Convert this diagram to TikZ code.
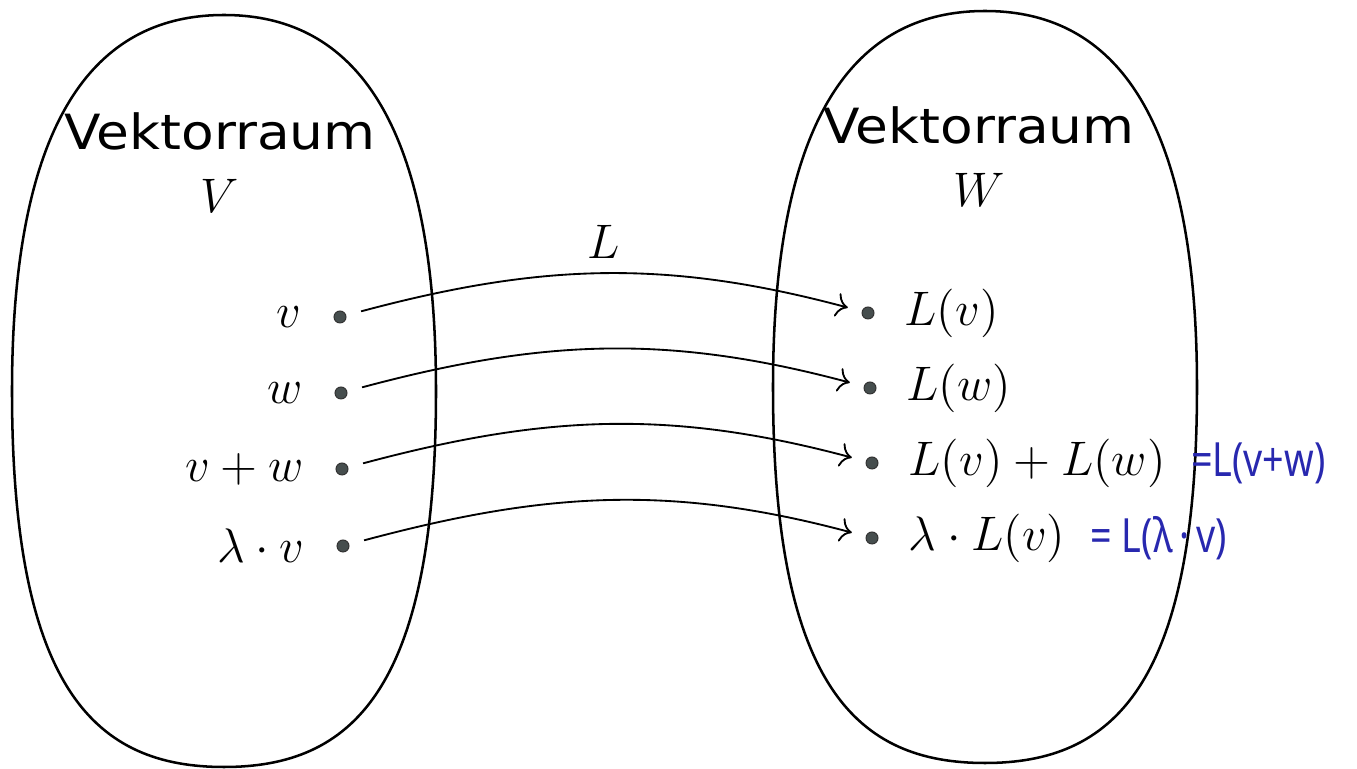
\documentclass[tikz,border=0pt]{standalone}
\usepackage{amsmath}
\usepackage{fontspec}
\newfontfamily\spacefont[FakeStretch=1.1]{DejaVu Sans}
\newfontfamily\penfont[FakeStretch=0.8]{Noto Sans}
\usetikzlibrary{positioning,arrows.meta}
\definecolor{pen}{RGB}{40,40,175}
\definecolor{dotgray}{RGB}{70,78,78}

\begin{document}
\begin{tikzpicture}[
  x=0.01044cm, y=0.01044cm,
  font=\fontsize{14.4}{18.7}\selectfont,
  space/.style={align=center},
  pt/.style={circle, fill=dotgray, draw=black!80, line width=0.3pt, minimum size=0.125cm, inner sep=0pt},
  arr/.style={-{To[length=1.2mm]}, line width=0.55pt, shorten <=0.16cm, shorten >=0.15cm},
  blob/.style={line width=0.75pt},
  note/.style={text=pen, inner sep=1pt, font=\penfont\fontsize{14}{16}\selectfont}
]
\useasboundingbox (0,0) rectangle (1357,-769);

% the two vector spaces
\draw[blob] (224,-15) .. controls (334,-15) and (436,-90) .. (436,-391)
  .. controls (436,-692) and (351,-767) .. (224,-767)
  .. controls (97,-767) and (12,-692) .. (12,-391)
  .. controls (12,-90) and (114,-15) .. cycle;
\draw[blob] (985,-11) .. controls (1095,-11) and (1197,-86) .. (1197,-387)
  .. controls (1197,-688) and (1112,-763) .. (985,-763)
  .. controls (858,-763) and (773,-688) .. (773,-387)
  .. controls (773,-86) and (875,-11) .. cycle;

\node[space] (Vname) at (220,-163) {{\spacefont Vektorraum}\\$V$};
\node[space] (Wname) at (979,-157) {{\spacefont Vektorraum}\\$W$};

% points in V
\node[pt] (v) at (340,-317) {};
\node[pt] (w) at (341,-393) {};
\node[pt] (vw) at (342,-469) {};
\node[pt] (lv) at (343,-546) {};
\node[left=0.21cm of v] (vlab) {$v$};
\node[left=0.21cm of w] (wlab) {$w$};
\node[left=0.21cm of vw] (vwlab) {$v+w$};
\node[left=0.21cm of lv] (lvlab) {$\lambda\cdot v$};

% images in W
\node[pt] (Lv) at (868,-313) {};
\node[pt] (Lw) at (870,-388) {};
\node[pt] (Lvw) at (872,-463) {};
\node[pt] (Llv) at (872,-538) {};
\node[right=0.19cm of Lv] (Lvlab) {$L(v)$};
\node[right=0.19cm of Lw] (Lwlab) {$L(w)$};
\node[right=0.19cm of Lvw] (Lvwlab) {$L(v)+L(w)$};
\node[right=0.19cm of Llv] (Llvlab) {$\lambda\cdot L(v)$};

\draw[arr] (v) to[out=15,in=165] node[above=1pt] (Lname) {$L$} (Lv);
\draw[arr] (w) to[out=15,in=165] (Lw);
\draw[arr] (vw) to[out=15,in=165] (Lvw);
\draw[arr] (lv) to[out=15,in=165] (Llv);

% handwritten additions
\node[note, right=0.1cm of Lvwlab] (sumnote) {=L(v+w)};
\node[note, right=0.1cm of Llvlab] (scalnote) {=\hspace{0.1cm}L(λ\hspace{0.07cm}·\hspace{0.07cm}v)};
\end{tikzpicture}
\end{document}
